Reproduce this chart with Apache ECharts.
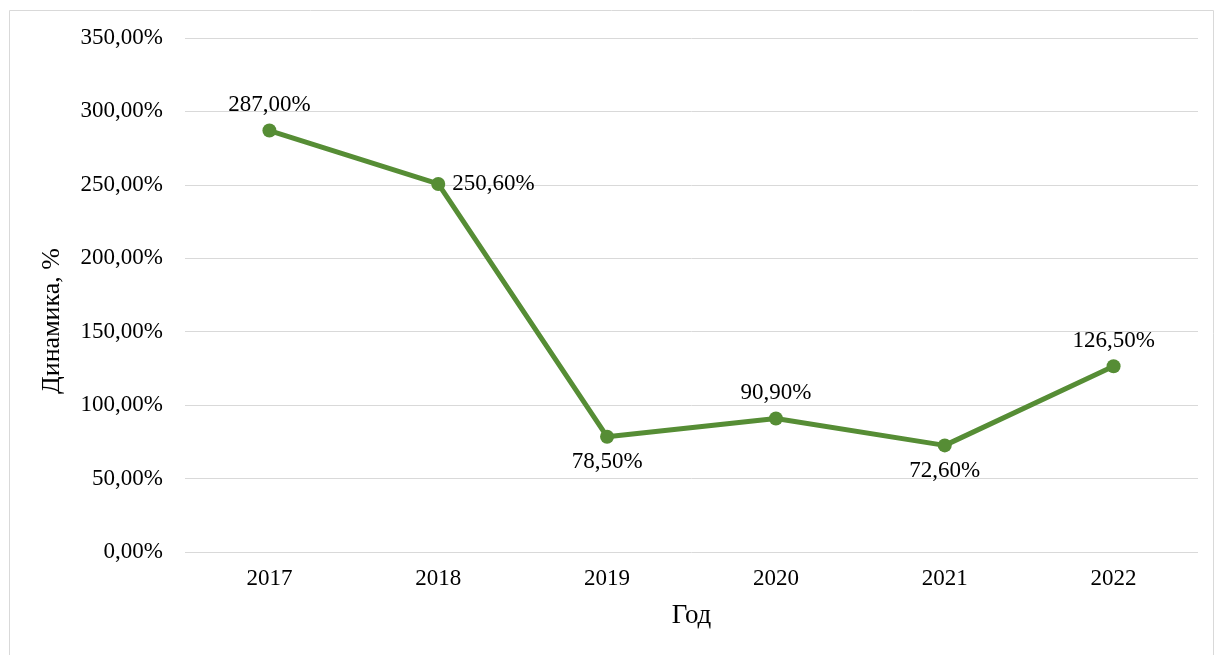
<!DOCTYPE html>
<html>
<head>
<meta charset="utf-8">
<script src="https://cdn.jsdelivr.net/npm/echarts@6/dist/echarts.min.js"></script>
<style>
  html, body { margin: 0; padding: 0; background: #fff; }
  #chart { width: 1215px; height: 655px; }
</style>
</head>
<body>
<div id="chart"></div>
<script>
const years = ["2017", "2018", "2019", "2020", "2021", "2022"];
const dynamics = [287.0, 250.6, 78.5, 90.9, 72.6, 126.5];
// где ставить подписи точек
const labelPos = ["top", "right", "bottom", "top", "bottom", "top"];

const font = "'Liberation Serif', 'Times New Roman', serif";
const fmt = v => v.toFixed(2).replace(".", ",") + "%";

let myChart = echarts.init(document.getElementById("chart"));
myChart.setOption({
  animation: false,
  graphic: [
    {
      type: "rect",
      shape: { x: 9.5, y: 10.5, width: 1204, height: 660 },
      style: { fill: "none", stroke: "#d9d9d9", lineWidth: 1 }
    },
    {
      // подпись оси Y, чуть ниже центра как в оригинале
      type: "text",
      x: 52,
      y: 321,
      rotation: Math.PI / 2,
      style: {
        text: "Динамика, %",
        font: "26px " + font,
        fill: "#000",
        align: "center",
        verticalAlign: "middle"
      }
    }
  ],
  grid: { left: 185, right: 17, top: 38, bottom: 103 },
  xAxis: {
    type: "category",
    data: years,
    name: "Год",
    nameLocation: "middle",
    nameGap: 50,
    nameTextStyle: { fontFamily: font, fontSize: 27, color: "#000", verticalAlign: "top" },
    axisLine: { show: false },
    axisTick: { show: false },
    axisLabel: { fontFamily: font, fontSize: 23, color: "#000", margin: 15 }
  },
  yAxis: {
    type: "value",
    min: 0,
    max: 350,
    interval: 50,
    axisLine: { show: false },
    axisTick: { show: false },
    axisLabel: { fontFamily: font, fontSize: 23, color: "#000", margin: 22, formatter: fmt },
    splitLine: { lineStyle: { color: "#d9d9d9", width: 1 } }
  },
  series: [{
    type: "line",
    data: dynamics.map((v, i) => ({
      value: v,
      label: { position: labelPos[i] }
    })),
    color: "#568d35",
    lineStyle: { width: 5 },
    symbol: "circle",
    symbolSize: 14,
    label: {
      show: true,
      distance: 7,
      fontFamily: font,
      fontSize: 23,
      color: "#000",
      formatter: p => fmt(p.value)
    }
  }]
});
</script>
</body>
</html>
